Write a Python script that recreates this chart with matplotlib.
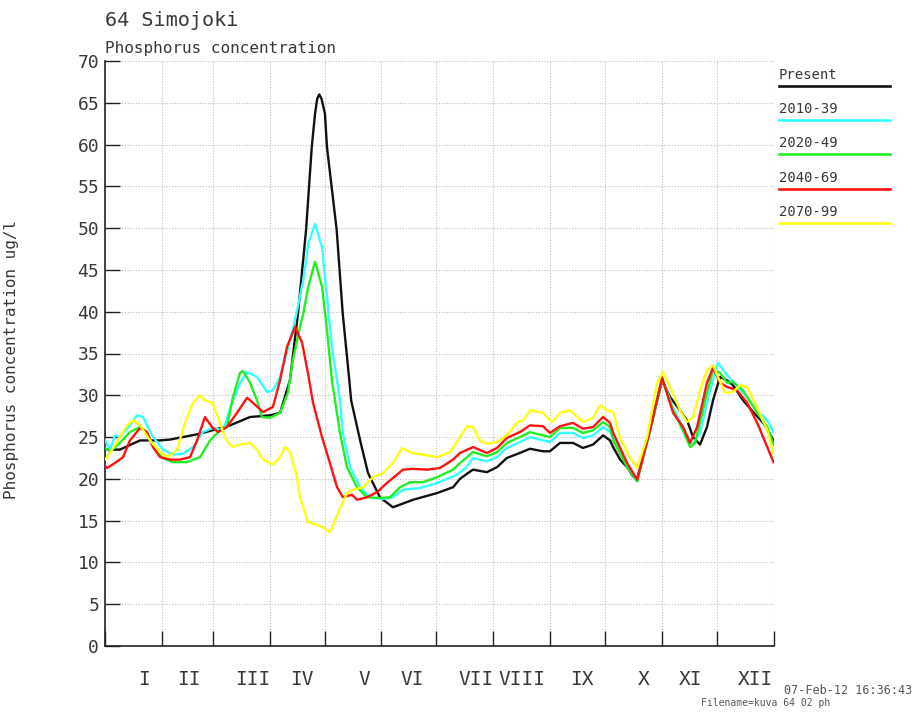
import matplotlib
matplotlib.use('Agg')
import matplotlib.pyplot as plt
from matplotlib.lines import Line2D


MONO = 'DejaVu Sans Mono'
TXT = '#383838'

month_edges = [0, 31, 59, 90, 120, 151, 181, 212, 243, 273, 304, 334, 365]
month_names = ['I', 'II', 'III', 'IV', 'V', 'VI', 'VII', 'VIII', 'IX', 'X', 'XI', 'XII']
month_label_days = [21.7, 46, 81, 107.5, 141.8, 167.9, 202.6, 227.6, 260.5, 294.3, 320, 355]

series_names = ['Present', '2010-39', '2020-49', '2040-69', '2070-99']
series_colors = ['#111111', '#33ffff', '#22ee22', '#ff1111', '#ffff11']

present_days = [0, 2.9, 8.3, 19.3, 30.2, 35.6, 52.0, 68.4, 79.3, 90.2, 95.7, 101.1,
                105.5, 109.9, 113.0, 114.8, 116.0, 117.1, 118.3, 120.2, 121.3, 126.6, 129.9, 133.5,
                134.5, 139.4, 143.7, 150.2, 157.3, 168.3, 181.4, 190.1, 193.9, 198.3,
                201.0, 208.6, 214.1, 219.5, 226.6, 232.1, 239.2, 243.0, 248.5, 255.6,
                261.0, 266.5, 272.0, 275.8, 277.5, 281.3, 285.1, 288.4, 290.6, 297.6,
                304.2, 308.5, 314.0, 317.8, 321.1, 324.9, 328.7, 332.0, 335.8, 339.6,
                342.9, 348.4, 353.9, 359.4, 365]
present_vals = [23.6, 23.5, 23.5, 24.6, 24.6, 24.7, 25.4, 26.4, 27.4, 27.6, 27.9, 31.8,
                39.8, 49.8, 59.7, 63.7, 65.5, 66.0, 65.5, 63.7, 59.7, 49.8, 39.8, 31.8,
                29.4, 24.6, 20.7, 17.8, 16.6, 17.5, 18.3, 19.0, 20.0, 20.7,
                21.1, 20.8, 21.4, 22.5, 23.1, 23.6, 23.3, 23.3, 24.3, 24.3,
                23.7, 24.1, 25.2, 24.6, 23.8, 22.3, 21.4, 20.3, 20.0, 25.8,
                31.8, 29.8, 28.2, 27.0, 25.0, 24.1, 26.2, 29.4, 32.2, 31.8,
                31.2, 29.4, 28.0, 26.7, 24.6]

c2010_days = [0, 2.9, 5.6, 8.3, 13.8, 17.6, 20.9, 26.4, 31.8, 37.3, 42.7, 48.2, 53.6,
              59.1, 64.6, 70.0, 73.9, 77.7, 83.1, 88.6, 91.8, 95.7, 99.3, 103.9, 108.4,
              111.1, 114.8, 118.6, 121.3, 124.0, 126.8, 128.4, 130.0, 133.9, 139.4,
              144.8, 151.9, 157.3, 162.8, 172.1, 181.4, 192.3, 197.0, 201.0, 208.6,
              214.1, 219.5, 226.6, 232.1, 239.2, 243.0, 248.5, 255.6, 261.0, 266.5,
              272.0, 275.8, 277.5, 285.1, 290.6, 297.6, 304.2, 310.2, 315.6, 320.6,
              324.9, 330.4, 334.7, 338.6, 342.9, 348.4, 356.1, 361.6, 365]
c2010_vals = [24.7, 23.5, 25.2, 25.0, 26.4, 27.6, 27.4, 25.0, 23.5, 22.9, 23.0, 23.8, 25.6,
              26.1, 25.8, 29.4, 31.5, 32.8, 32.2, 30.4, 30.6, 32.2, 35.0, 39.0, 43.8,
              48.2, 50.5, 47.7, 41.8, 35.8, 31.8, 29.4, 25.5, 21.4, 19.0,
              17.8, 17.6, 17.8, 18.7, 18.9, 19.5, 20.5, 21.3, 22.5, 22.1,
              22.6, 23.7, 24.4, 25.0, 24.6, 24.4, 25.5, 25.5, 24.9, 25.2,
              26.2, 25.6, 25.0, 21.9, 19.7, 25.8, 32.0, 28.5, 26.2, 24.1,
              25.5, 30.6, 33.9, 32.7, 31.6, 30.3, 28.2, 27.0, 25.6]

c2020_days = [0, 2.9, 8.3, 13.8, 19.3, 23.1, 26.4, 31.8, 37.3, 44.9, 52.0, 57.5, 62.9,
              66.7, 70.0, 73.9, 75.5, 79.3, 83.1, 85.8, 90.2, 95.7, 100.0, 102.5, 106.6, 108.4,
              111.1, 114.8, 118.6, 121.3, 124.0, 125.7, 128.4, 132.2, 137.7, 143.1,
              150.2, 155.7, 161.2, 166.6, 173.7, 181.4, 190.1, 193.9, 201.0, 208.6,
              214.1, 219.5, 226.6, 232.1, 239.2, 243.0, 248.5, 255.6, 261.0, 266.5,
              272.0, 275.8, 277.5, 285.1, 290.6, 297.6, 304.2, 310.2, 315.6, 319.5,
              322.2, 328.7, 332.0, 335.8, 339.6, 342.9, 348.4, 356.1, 361.6, 365]
c2020_vals = [23.7, 23.3, 24.3, 25.6, 26.2, 25.6, 23.8, 22.5, 22.0, 22.0, 22.6, 24.6, 25.8,
              26.2, 29.8, 32.7, 32.9, 31.5, 29.4, 27.4, 27.3, 27.9, 30.3, 34.0, 38.2, 39.8,
              43.0, 46.0, 43.0, 37.8, 31.8, 29.4, 25.5, 21.4, 19.0, 17.8,
              17.7, 17.8, 19.0, 19.6, 19.6, 20.2, 21.1, 21.9, 23.2, 22.7,
              23.2, 24.3, 25.0, 25.6, 25.2, 25.0, 26.1, 26.1, 25.5, 25.8,
              26.8, 26.2, 24.6, 21.4, 19.7, 25.8, 32.0, 28.2, 25.8, 23.8,
              24.3, 30.3, 33.0, 32.7, 31.5, 31.6, 30.6, 27.9, 26.2, 24.1]

c2040_days = [0, 1.3, 5.6, 10.0, 13.8, 19.3, 23.1, 26.4, 30.2, 35.6, 41.1, 46.6, 50.4,
              54.7, 58.6, 61.8, 66.7, 72.2, 77.7, 80.9, 86.4, 91.8, 95.7, 99.5, 103.9,
              107.7, 110.9, 113.7, 118.6, 122.9, 126.8, 130.0, 135.0, 137.7, 143.1,
              148.6, 154.0, 159.5, 162.8, 168.3, 175.9, 183.0, 190.1, 193.9, 201.0,
              208.6, 214.1, 219.5, 226.6, 232.1, 239.2, 243.0, 248.5, 255.6, 261.0,
              266.5, 272.0, 275.8, 277.5, 285.1, 290.6, 297.6, 304.2, 310.2, 315.6,
              319.5, 323.3, 328.7, 332.0, 335.8, 339.6, 345.1, 350.6, 356.1, 361.6, 365]
c2040_vals = [21.6, 21.3, 21.9, 22.6, 24.6, 26.1, 25.6, 23.8, 22.6, 22.3, 22.3, 22.6, 24.6,
              27.4, 26.2, 25.6, 26.2, 27.9, 29.7, 29.1, 28.0, 28.6, 31.8, 35.8, 38.2,
              36.3, 32.7, 29.1, 25.0, 21.9, 19.0, 17.8, 18.1, 17.5, 17.8,
              18.4, 19.5, 20.5, 21.1, 21.2, 21.1, 21.3, 22.3, 23.1, 23.8,
              23.1, 23.7, 24.9, 25.6, 26.4, 26.3, 25.5, 26.3, 26.7, 26.0,
              26.2, 27.4, 26.7, 25.5, 21.9, 19.9, 25.8, 32.1, 27.9, 26.2,
              24.3, 26.2, 31.5, 33.3, 31.5, 31.0, 30.6, 29.1, 26.7, 23.8, 22.0]

c2070_days = [0, 1.3, 6.7, 12.2, 15.4, 19.3, 24.7, 30.2, 34.5, 39.5, 43.8, 48.2, 52.0,
              54.7, 58.6, 61.8, 65.7, 69.5, 73.9, 79.3, 83.1, 86.4, 91.8, 95.7, 98.4,
              101.1, 104.9, 106.6, 110.9, 115.9, 119.1, 122.9, 127.3, 132.2, 135.5,
              141.0, 146.4, 151.9, 157.3, 162.3, 167.7, 173.7, 181.4, 188.5, 193.9,
              197.7, 201.0, 204.8, 208.6, 214.1, 219.5, 225.0, 228.3, 232.1, 239.2,
              244.1, 248.5, 253.9, 261.0, 266.5, 270.3, 274.2, 277.5, 281.3, 286.7,
              290.6, 296.0, 301.5, 304.7, 308.5, 314.0, 317.8, 321.1, 324.9, 328.7,
              332.0, 334.7, 338.6, 342.9, 346.8, 350.6, 356.1, 361.6, 365]
c2070_vals = [22.3, 22.6, 24.4, 26.4, 27.0, 26.4, 24.6, 23.2, 22.6, 23.5, 26.7, 29.1, 30.0,
              29.4, 29.1, 27.4, 24.9, 23.8, 24.1, 24.3, 23.5, 22.3, 21.7, 22.6, 23.8,
              23.2, 20.2, 17.8, 14.8, 14.5, 14.2, 13.6, 15.9, 18.3, 18.7,
              19.0, 20.2, 20.7, 21.9, 23.7, 23.1, 22.9, 22.6, 23.2, 25.0,
              26.3, 26.2, 24.6, 24.2, 24.4, 25.2, 26.7, 27.0, 28.2, 27.9,
              26.8, 27.9, 28.2, 26.8, 27.3, 28.8, 28.2, 28.0, 24.8, 22.5,
              21.3, 25.0, 31.5, 32.8, 31.0, 28.2, 26.8, 27.4, 30.6, 33.0,
              33.6, 32.2, 30.3, 30.4, 31.2, 31.0, 28.5, 25.8, 23.1]

all_days = [present_days, c2010_days, c2020_days, c2040_days, c2070_days]
all_vals = [present_vals, c2010_vals, c2020_vals, c2040_vals, c2070_vals]


def main():

    W, H = 915, 713
    fig = plt.figure(figsize = (W / 100, H / 100), dpi = 100)
    ax = fig.add_axes([104.7 / W, 1 - 646 / H, (773.5 - 104.7) / W, (646 - 61) / H])

    for days, vals, color in zip(all_days, all_vals, series_colors):
        ax.plot(days, vals, color = color, lw = 1.7, solid_joinstyle = 'round', zorder = 3)

    ax.set_xlim(0, 365)
    ax.set_ylim(0, 70)

    ax.set_yticks(range(0, 71, 5))
    ax.set_xticks(month_edges)
    ax.set_xticklabels([])
    ax.set_xticks(month_label_days, minor = True)
    ax.set_xticklabels(month_names, minor = True, fontfamily = MONO, fontsize = 14, color = TXT)
    ax.tick_params(axis = 'x', which = 'minor', length = 0, pad = 17)
    ax.tick_params(axis = 'x', which = 'major', direction = 'in', length = 11, width = 1, color = '#222222')
    ax.tick_params(axis = 'y', direction = 'in', length = 11, width = 1, color = '#222222',
                   labelsize = 13, labelcolor = TXT, pad = 4)
    for lab in ax.get_yticklabels():
        lab.set_fontfamily(MONO)

    ax.grid(True, which = 'major', color = '#bdbdbd', linestyle = (0, (1, 1.5)), lw = 0.8)
    for s in ['top', 'right']:
        ax.spines[s].set_visible(False)
    for s in ['left', 'bottom']:
        ax.spines[s].set_color('#222222')
        ax.spines[s].set_linewidth(1.2)

    ax.set_ylabel('Phosphorus concentration ug/l', fontfamily = MONO, fontsize = 11.5, color = TXT)
    ax.yaxis.set_label_coords(-(104.7 - 19) / (773.5 - 104.7), 0.49)

    fig.text(105 / W, 1 - 20 / H, '64 Simojoki', fontfamily = MONO, fontsize = 14.5,
             color = TXT, va = 'center', ha = 'left')
    fig.text(105 / W, 1 - 49 / H, 'Phosphorus concentration', fontfamily = MONO, fontsize = 11.5,
             color = TXT, va = 'center', ha = 'left')

    # legend, drawn by hand as in the original
    for i, (name, color) in enumerate(zip(series_names, series_colors)):
        y_line = 86 + i * 34.2
        fig.text(779 / W, 1 - (y_line - 11) / H, name, fontfamily = MONO, fontsize = 10,
                 color = TXT, va = 'center', ha = 'left')
        fig.add_artist(Line2D([779 / W, 890 / W], [1 - y_line / H, 1 - y_line / H],
                              color = color, lw = 1.9))

    fig.text(912 / W, 1 - 691 / H, '07-Feb-12 16:36:43', fontfamily = MONO, fontsize = 8.5,
             color = '#555555', va = 'center', ha = 'right')
    fig.text(830 / W, 1 - 703 / H, 'Filename=kuva 64 02 ph', fontfamily = MONO, fontsize = 7,
             color = '#555555', va = 'center', ha = 'right')

    fig.savefig('out.png', dpi = 100)


if __name__ == '__main__':
    main()
